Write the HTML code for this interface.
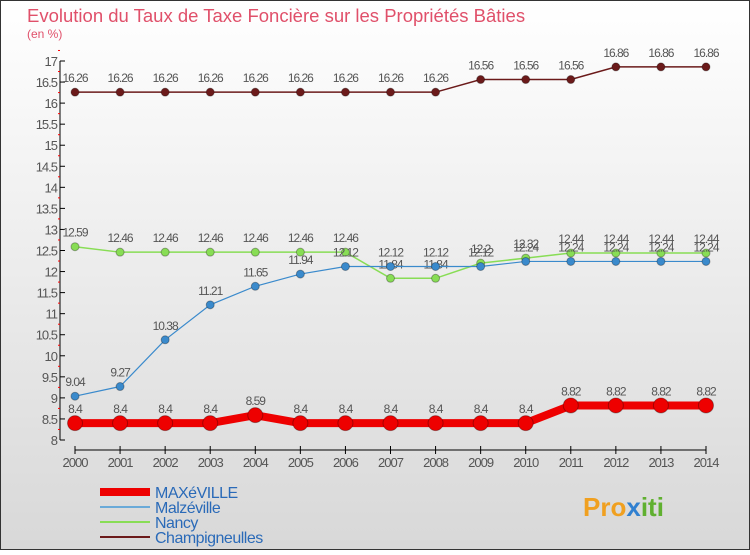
<!DOCTYPE html>
<html><head><meta charset="utf-8"><style>
body{margin:0;width:750px;height:550px;overflow:hidden;font-family:"Liberation Sans",sans-serif}
svg text{font-family:"Liberation Sans",sans-serif}
</style></head><body>
<svg id="c" width="750" height="550">
<defs><linearGradient id="bg" x1="0" y1="0" x2="0" y2="1"><stop offset="0" stop-color="#ffffff"/><stop offset="1" stop-color="#d8d8d8"/></linearGradient></defs>
<rect x="0.5" y="0.5" width="749" height="549" fill="url(#bg)" stroke="#333"/>
<text x="27" y="22" font-size="18.5" fill="#e0506a">Evolution du Taux de Taxe Foncière sur les Propriétés Bâties</text>
<text x="27" y="38" font-size="12" fill="#e0506a">(en %)</text>
<g id="axes"></g><g id="series"></g><g id="legend"></g>
<text x="583" y="516" font-size="26" font-weight="bold" fill="#f0a020">Pro<tspan fill="#3080d0">x</tspan><tspan fill="#60b030">iti</tspan></text>
</svg>
<script>
const years=[2000,2001,2002,2003,2004,2005,2006,2007,2008,2009,2010,2011,2012,2013,2014];
const maxeville=[8.4,8.4,8.4,8.4,8.59,8.4,8.4,8.4,8.4,8.4,8.4,8.82,8.82,8.82,8.82];
const malzeville=[9.04,9.27,10.38,11.21,11.65,11.94,12.12,12.12,12.12,12.12,12.24,12.24,12.24,12.24,12.24];
const nancy=[12.59,12.46,12.46,12.46,12.46,12.46,12.46,11.84,11.84,12.2,12.32,12.44,12.44,12.44,12.44];
const champ=[16.26,16.26,16.26,16.26,16.26,16.26,16.26,16.26,16.26,16.56,16.56,16.56,16.86,16.86,16.86];
const yTicks=[8,8.5,9,9.5,10,10.5,11,11.5,12,12.5,13,13.5,14,14.5,15,15.5,16,16.5,17];
const NS="http://www.w3.org/2000/svg";
const X=i=>75+i*(706-75)/(years.length-1);
const Y=v=>440-(v-8)*(379/9);
function mk(t,a,p){const e=document.createElementNS(NS,t);for(const k in a)e.setAttribute(k,a[k]);p.appendChild(e);return e;}
const ax=document.getElementById('axes');
let l=mk('line',{x1:60,y1:Y(17),x2:60,y2:Y(8),stroke:'#000'},ax);


yTicks.forEach(v=>{
 mk('line',{x1:60,x2:65,y1:Y(v),y2:Y(v),stroke:'#000'},ax);
 mk('line',{x1:58,x2:60,y1:Y(v+0.25),y2:Y(v+0.25),stroke:'#f00'},ax);
 const t=mk('text',{x:57,y:Y(v)+5,'font-size':13,'text-anchor':'end',fill:'#555','letter-spacing':'-1'},ax);
 t.textContent=v;
 
 
});
l=mk('line',{x1:X(0),y1:450,x2:X(14),y2:450,stroke:'#000'},ax);


years.forEach((y,i)=>{
 mk('line',{x1:X(i),x2:X(i),y1:446,y2:454,stroke:'#000'},ax);
 const t=mk('text',{x:X(i),y:467,'font-size':13,'text-anchor':'middle',fill:'#555','letter-spacing':'-1'},ax);
 t.textContent=y;
 
 
});
const sg=document.getElementById('series');
function series(d,col,w,r,name){
 const g=mk('g',{},sg);
 
 
 const p=mk('polyline',{points:d.map((v,i)=>X(i)+','+Y(v)).join(' '),fill:'none',stroke:col,'stroke-width':w},g);
 
 
 d.forEach((v,i)=>{
  const c=mk('circle',{cx:X(i),cy:Y(v),r:r,fill:col,stroke:'rgba(0,0,0,0.3)'},g);
  
  
  const t=mk('text',{x:X(i),y:Y(v)-10,'font-size':12,'text-anchor':'middle',fill:'#555','letter-spacing':'-1'},g);
  t.textContent=v;
  
  
 });
}
series(champ,'#6b1a1a',1.5,4,'champigneulles');
series(nancy,'#88dd55',1.5,4,'nancy');
series(malzeville,'#3a8acc',1.2,4,'malzeville');
series(maxeville,'#ee0000',8,7.5,'maxeville');
const lg=document.getElementById('legend');
const names=['MAXéVILLE','Malzéville','Nancy','Champigneulles'],cols=['#ee0000','#6aaad8','#88dd55','#6b1a1a'],ws=[8,2,2,2];
names.forEach((n,i)=>{
 const y=492+i*15;
 const g=mk('g',{},lg);
 
 
 mk('line',{x1:100,x2:150,y1:y,y2:y,stroke:cols[i],'stroke-width':ws[i]},g);
 const t=mk('text',{x:155,y:y+6,'font-size':16,fill:'#2a6ab8','letter-spacing':'-0.5'},g);
 t.textContent=n;
});
</script>
</body></html>
